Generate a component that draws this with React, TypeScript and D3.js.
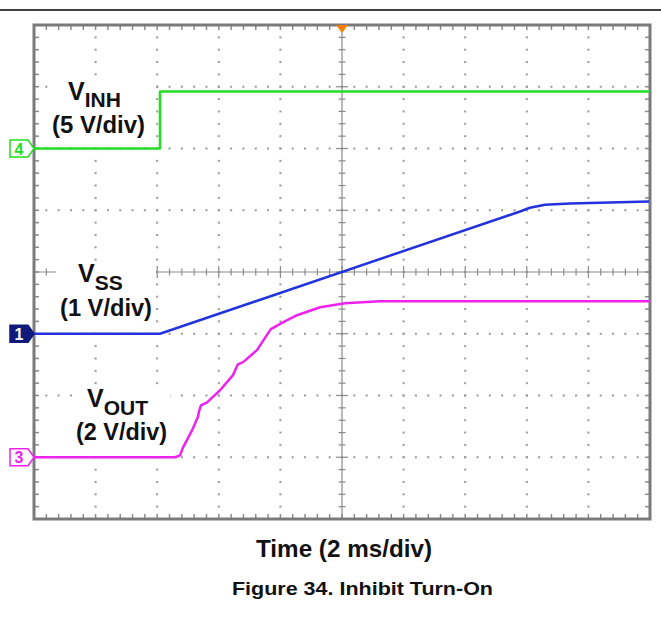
import React from "react";
import * as d3 from "d3";

// Time in ms (2 ms/div, 10 divisions)
const vinhT = [0, 4.09, 4.09, 20];
const vinhV = [0, 0, 4.62, 4.62];

const vssT = [0, 4.09, 15.78, 16.1, 16.59, 17.4, 19.97];
const vssV = [0, 0, 1.98, 2.04, 2.09, 2.11, 2.14];

const voutT = [0, 4.58, 4.74, 4.84, 5.13, 5.32, 5.36, 5.42, 5.62, 6.04, 6.46, 6.56, 6.62, 6.79, 7.24, 7.6, 7.69, 8.08, 8.54, 9.29, 10.1, 11.23, 19.97];
const voutV = [0, 0, 0.06, 0.32, 0.87, 1.3, 1.49, 1.68, 1.78, 2.17, 2.66, 2.88, 3.01, 3.08, 3.47, 4.02, 4.15, 4.37, 4.6, 4.86, 4.99, 5.05, 5.05];

const channels = [
  { id: "4", color: "#22dd22", offset: 2, vdiv: 5, t: vinhT, v: vinhV },
  { id: "1", color: "#2233dd", offset: -1, vdiv: 1, t: vssT, v: vssV },
  { id: "3", color: "#ee22ee", offset: -3, vdiv: 2, t: voutT, v: voutV },
];

const W = 661, H = 629;
const L = 34, R = 650, T = 25, B = 519;

export default function App() {
  const x = d3.scaleLinear().domain([0, 20]).range([L, R]);
  const y = d3.scaleLinear().domain([-4, 4]).range([B, T]);
  const xDivs = d3.range(0, 11).map((i) => L + (i * (R - L)) / 10);
  const yDivs = d3.range(0, 9).map((i) => T + (i * (B - T)) / 8);
  const xMinor = d3.range(0, 51).map((i) => L + (i * (R - L)) / 50);
  const yMinor = d3.range(0, 41).map((i) => T + (i * (B - T)) / 40);
  const cx = xDivs[5], cy = yDivs[4];

  const dots: JSX.Element[] = [];
  xDivs.slice(1, 10).forEach((gx, i) => {
    if (i === 4) return;
    yMinor.forEach((my, j) => dots.push(<rect key={`v${i}-${j}`} x={gx - 1} y={my - 1} width={2} height={2} fill="#9a9a9a" />));
  });
  yDivs.slice(1, 8).forEach((gy, i) => {
    if (i === 3) return;
    xMinor.forEach((mx, j) => dots.push(<rect key={`h${i}-${j}`} x={mx - 1} y={gy - 1} width={2} height={2} fill="#9a9a9a" />));
  });

  const ticks: JSX.Element[] = [];
  xMinor.forEach((mx, j) => {
    ticks.push(<line key={`tt${j}`} x1={mx} x2={mx} y1={T} y2={T + 5} stroke="#8a8a8a" strokeWidth={1.5} />);
    ticks.push(<line key={`tb${j}`} x1={mx} x2={mx} y1={B} y2={B - 5} stroke="#8a8a8a" strokeWidth={1.5} />);
    const len = j % 5 === 0 ? 6 : 3.5;
    ticks.push(<line key={`tc${j}`} x1={mx} x2={mx} y1={cy - len} y2={cy + len} stroke="#8a8a8a" strokeWidth={1.2} />);
  });
  yMinor.forEach((my, j) => {
    ticks.push(<line key={`tl${j}`} x1={L} x2={L + 5} y1={my} y2={my} stroke="#8a8a8a" strokeWidth={1.5} />);
    ticks.push(<line key={`tr${j}`} x1={R} x2={R - 5} y1={my} y2={my} stroke="#8a8a8a" strokeWidth={1.5} />);
    const len = j % 5 === 0 ? 6 : 3.5;
    ticks.push(<line key={`tcv${j}`} x1={cx - len} x2={cx + len} y1={my} y2={my} stroke="#8a8a8a" strokeWidth={1.2} />);
  });

  const lineGen = (c: typeof channels[0]) =>
    d3
      .line<number>()
      .x((_, i) => x(c.t[i]))
      .y((d) => y(c.offset + d / c.vdiv))(c.v) || "";

  const font = "'Liberation Sans', Arial, sans-serif";

  const marker = (c: typeof channels[0]) => {
    const gy = y(c.offset);
    const filled = c.id === "1";
    const fill = filled ? "#101a7a" : "#ffffff";
    const stroke = filled ? "#101a7a" : c.color;
    const p = `M10,${gy - 8.5} L28,${gy - 8.5} L34,${gy} L28,${gy + 8.5} L10,${gy + 8.5} Z`;
    return (
      <g key={`m${c.id}`}>
        <path d={p} fill={fill} stroke={stroke} strokeWidth={1.5} />
        <text x={19} y={gy + 6} textAnchor="middle" fontFamily={font} fontWeight="bold" fontSize={16} fill={filled ? "#ffffff" : c.color}>
          {c.id}
        </text>
      </g>
    );
  };

  return (
    <svg width={W} height={H} style={{ position: "absolute", left: 0, top: 0 }}>
      <rect width={W} height={H} fill="#ffffff" />
      <line x1={0} x2={W} y1={10} y2={10} stroke="#000" strokeWidth={1.5} />
      {dots}
      <line x1={cx} x2={cx} y1={T} y2={B} stroke="#8a8a8a" strokeWidth={1.2} />
      <line x1={L} x2={R} y1={cy} y2={cy} stroke="#8a8a8a" strokeWidth={1.2} />
      {ticks}
      <rect x={L} y={T} width={R - L} height={B - T} fill="none" stroke="#7a7a7a" strokeWidth={3} />
      <path d={`M${cx - 6},${T} L${cx + 6},${T} L${cx},${T + 8} Z`} fill="#ff8000" />

      {/* label backgrounds */}
      <rect x={50} y={78} width={98} height={62} fill="#fff" />
      <rect x={56} y={261} width={100} height={62} fill="#fff" />
      <rect x={72} y={386} width={98} height={62} fill="#fff" />

      <g fontFamily={font} fontWeight="bold" fill="#111">
        <text x={68} y={100} fontSize={25}>
          V<tspan fontSize={21} dy={7}>INH</tspan>
        </text>
        <text x={52} y={133} fontSize={23} textLength={93} lengthAdjust="spacingAndGlyphs">(5 V/div)</text>
        <text x={78} y={282} fontSize={25}>
          V<tspan fontSize={21} dy={8}>SS</tspan>
        </text>
        <text x={60} y={316} fontSize={23} textLength={92} lengthAdjust="spacingAndGlyphs">(1 V/div)</text>
        <text x={87} y={407} fontSize={25}>
          V<tspan fontSize={21} dy={8}>OUT</tspan>
        </text>
        <text x={76} y={440} fontSize={23} textLength={91} lengthAdjust="spacingAndGlyphs">(2 V/div)</text>
        <text x={256} y={557} fontSize={24} textLength={176} lengthAdjust="spacingAndGlyphs">Time (2 ms/div)</text>
        <text x={232} y={595} fontSize={19} textLength={261} lengthAdjust="spacingAndGlyphs">Figure 34. Inhibit Turn-On</text>
      </g>

      {channels.map((c) => (
        <path key={c.id} d={lineGen(c)} fill="none" stroke={c.color} strokeWidth={2.5} strokeLinejoin="round" />
      ))}
      {channels.map(marker)}
    </svg>
  );
}
